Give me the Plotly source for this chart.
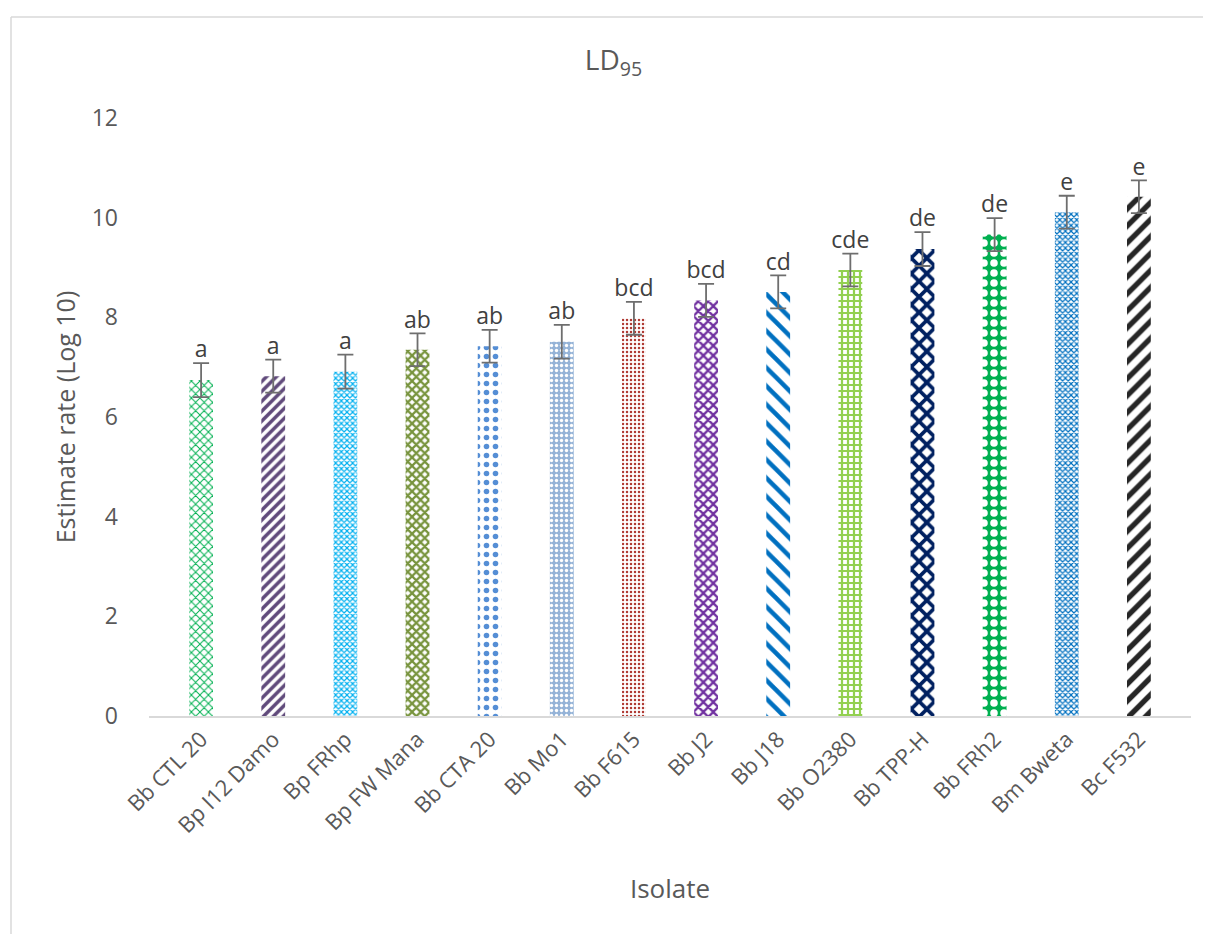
import plotly.graph_objects as go

isolates = ["Bb CTL 20", "Bp I12 Damo", "Bp FRhp", "Bp FW Mana", "Bb CTA 20", "Bb Mo1",
            "Bb F615", "Bb J2", "Bb J18", "Bb O2380", "Bb TPP-H", "Bb FRh2", "Bm Bweta", "Bc F532"]
ld95 = [6.74, 6.82, 6.91, 7.35, 7.42, 7.51, 7.98, 8.34, 8.51, 8.95, 9.37, 9.66, 10.11, 10.42]
err = [0.34, 0.33, 0.34, 0.33, 0.33, 0.34, 0.33, 0.33, 0.33, 0.33, 0.34, 0.33, 0.33, 0.33]
letters = ["a", "a", "a", "ab", "ab", "ab", "bcd", "bcd", "cd", "cde", "de", "de", "e", "e"]

fg_colors = ["#00B050", "#604A7B", "#00B0F0", "#77933C", "#558ED5", "#FFFFFF", "#B03A33",
             "#7030A0", "#0070C0", "#92D050", "#002060", "#FFFFFF", "#0070C0", "#262626"]
bg_colors = ["#FFFFFF", "#FFFFFF", "#FFFFFF", "#FFFFFF", "#FFFFFF", "#95B3D7", "#FFFFFF",
             "#FFFFFF", "#FFFFFF", "#FFFFFF", "#FFFFFF", "#00B050", "#FFFFFF", "#FFFFFF"]
shapes = ["x", "/", "x", "x", ".", ".", ".", "x", "\\", "+", "x", ".", "x", "/"]
sizes = [6, 7, 4, 6, 9, 5, 4, 7, 13, 6, 11, 10, 4, 12]
solid = [0.3, 0.5, 0.5, 0.6, 0.3, 0.35, 0.3, 0.55, 0.35, 0.6, 0.55, 0.45, 0.5, 0.45]

FONT = "Open Sans"
fig = go.Figure()
for i, name in enumerate(isolates):
    fig.add_trace(go.Bar(
        x=[name], y=[ld95[i]], width=0.33,
        marker=dict(
            color=bg_colors[i],
            line=dict(width=0),
            pattern=dict(shape=shapes[i], fgcolor=fg_colors[i], bgcolor=bg_colors[i],
                         size=sizes[i], solidity=solid[i], fillmode="replace"),
        ),
        error_y=dict(type="data", array=[err[i]], visible=True, color="#6E6E6E",
                     thickness=1.8, width=8),
        showlegend=False,
    ))
fig.add_trace(go.Scatter(
    x=isolates, y=[v + e for v, e in zip(ld95, err)],
    mode="text", text=letters, textposition="top center",
    textfont=dict(family=FONT, size=23, color="#404040"),
    showlegend=False, hoverinfo="skip",
))

fig.update_layout(
    width=1211, height=934,
    paper_bgcolor="white", plot_bgcolor="white",
    margin=dict(l=141, r=28, t=110, b=226),
    font=dict(family=FONT, color="#595959"),
    title=dict(text="LD<sub>95</sub>", x=0.5, xanchor="center", y=1 - 52 / 934,
               yanchor="middle", font=dict(family=FONT, size=28, color="#595959")),
    barmode="overlay",
)
fig.update_xaxes(
    showline=True, linecolor="#D9D9D9", linewidth=1.5, showgrid=False,
    tickangle=-45, tickfont=dict(family=FONT, size=22, color="#595959"),
    title=dict(text="Isolate", font=dict(family=FONT, size=26, color="#595959"),
               standoff=42),
    ticks="",
)
fig.update_yaxes(
    range=[0, 12], dtick=2, showgrid=False, showline=False, zeroline=False,
    tickfont=dict(family=FONT, size=23, color="#595959"),
    ticklabelstandoff=30,
    title=dict(text="Estimate rate (Log 10)",
               font=dict(family=FONT, size=25, color="#595959"), standoff=8),
)
# chart area border (top and left edges visible in reference)
fig.add_shape(type="line", xref="paper", yref="paper",
              x0=-138 / 1042, x1=1.1, y0=1 + 101 / 598, y1=1 + 101 / 598,
              line=dict(color="#D9D9D9", width=1.5))
fig.add_shape(type="line", xref="paper", yref="paper",
              x0=-138 / 1042, x1=-138 / 1042, y0=1 + 101 / 598, y1=-0.5,
              line=dict(color="#D9D9D9", width=1.5))

fig.write_html("out.html")
